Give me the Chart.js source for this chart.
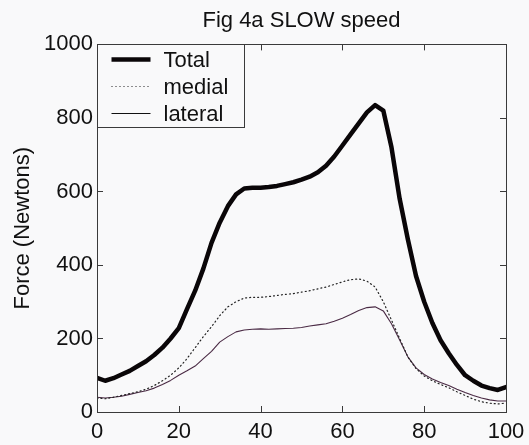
<!DOCTYPE html>
<html>
<head>
<meta charset="utf-8">
<script src="https://cdn.jsdelivr.net/npm/chart.js@4/dist/chart.umd.min.js"></script>
<style>
  html, body { margin: 0; padding: 0; background: #f9f9fa; }
  #wrap { width: 529px; height: 445px; }
</style>
</head>
<body>
<div id="wrap"><canvas id="fig"></canvas></div>
<script>
// Percent of stance (x) and forces in Newtons
const stance = [0, 2, 4, 6, 8, 10, 12, 14, 16, 18, 20, 22, 24, 26, 28, 30, 32, 34, 36, 38, 40,
  42, 44, 46, 48, 50, 52, 54, 56, 58, 60, 62, 64, 66, 68, 70, 72, 74, 76, 78, 80,
  82, 84, 86, 88, 90, 92, 94, 96, 98, 100];

const total = [93, 85, 92, 102, 112, 125, 138, 155, 175, 200, 228, 280, 330, 390, 460, 515, 560, 592, 608, 610, 610,
  612, 615, 620, 625, 632, 640, 652, 670, 695, 725, 755, 785, 815, 835, 820, 720, 580, 470, 370, 300,
  242, 195, 160, 128, 100, 85, 72, 65, 60, 68];

const medial = [38, 36, 40, 45, 50, 55, 62, 72, 85, 100, 120, 145, 175, 205, 232, 262, 286, 300, 310, 312, 312,
  314, 317, 320, 322, 326, 330, 335, 340, 347, 354, 360, 362, 356, 340, 300, 250, 200, 150, 118, 98,
  85, 75, 66, 55, 45, 35, 28, 24, 22, 24];

const lateral = [40, 38, 40, 43, 48, 53, 58, 65, 75, 86, 100, 112, 125, 145, 165, 190, 205, 218, 223, 225, 226,
  225, 226, 227, 228, 230, 234, 237, 240, 247, 255, 265, 276, 284, 286, 275, 240, 196, 150, 120, 102,
  90, 80, 72, 62, 53, 45, 38, 33, 30, 30];

const xTicks = [0, 20, 40, 60, 80, 100];
const yTicks = [0, 200, 400, 600, 800, 1000];

const FONT = "'Liberation Sans', Arial, Helvetica, sans-serif";
const AXIS = '#3a3a3a';

function pts(ys) {
  return stance.map((x, i) => ({ x: x, y: ys[i] }));
}

// MATLAB-style box with inward ticks and a boxed legend
const matlabBox = {
  id: 'matlabBox',
  afterLayout(chart) {
    // centre the title over the plot box, not over the whole canvas
    const t = chart.titleBlock;
    if (t) {
      t.left = chart.chartArea.left;
      t.right = chart.chartArea.right;
      t.width = t.right - t.left;
    }
  },
  afterDatasetsDraw(chart) {
    const { ctx, chartArea: a, scales } = chart;
    const len = 6;
    ctx.save();
    ctx.strokeStyle = AXIS;
    ctx.lineWidth = 1;
    ctx.beginPath();
    xTicks.forEach(v => {
      const px = Math.round(scales.x.getPixelForValue(v)) + 0.5;
      ctx.moveTo(px, a.bottom); ctx.lineTo(px, a.bottom - len);
      ctx.moveTo(px, a.top); ctx.lineTo(px, a.top + len);
    });
    yTicks.forEach(v => {
      const py = Math.round(scales.y.getPixelForValue(v)) + 0.5;
      ctx.moveTo(a.left, py); ctx.lineTo(a.left + len, py);
      ctx.moveTo(a.right, py); ctx.lineTo(a.right - len, py);
    });
    ctx.stroke();
    ctx.strokeRect(Math.round(a.left) + 0.5, Math.round(a.top) + 0.5,
      Math.round(a.right - a.left), Math.round(a.bottom - a.top));

    // legend
    const bx = Math.round(a.left) + 0.5, by = Math.round(a.top) + 0.5;
    const bw = 147, bh = 83;
    ctx.fillStyle = '#f9f9fa';
    ctx.fillRect(bx, by, bw, bh);
    ctx.strokeRect(bx, by, bw, bh);
    ctx.font = '22px ' + FONT;
    ctx.textBaseline = 'middle';
    chart.data.datasets.forEach((ds, i) => {
      const y = by + 15 + i * 27;
      ctx.beginPath();
      ctx.strokeStyle = i === 2 ? '#111' : ds.borderColor;
      ctx.lineWidth = ds.borderWidth;
      ctx.setLineDash(ds.borderDash || []);
      ctx.moveTo(bx + 14, y); ctx.lineTo(bx + 53, y);
      ctx.stroke();
      ctx.setLineDash([]);
      ctx.fillStyle = '#111';
      ctx.fillText(ds.label, bx + 66, y + 1);
    });
    ctx.restore();
  }
};

new Chart(document.getElementById('fig'), {
  type: 'line',
  data: {
    datasets: [
      { label: 'Total', data: pts(total), borderColor: '#0a0608', borderWidth: 4.5 },
      { label: 'medial', data: pts(medial), borderColor: '#222', borderWidth: 1.2, borderDash: [1, 3] },
      { label: 'lateral', data: pts(lateral), borderColor: '#4a2a44', borderWidth: 1.1 }
    ]
  },
  options: {
    responsive: true,
    maintainAspectRatio: false,
    animation: false,
    elements: { point: { radius: 0 }, line: { tension: 0, borderCapStyle: 'round', borderJoinStyle: 'round' } },
    layout: { padding: { left: 0, right: 23, top: 0, bottom: 0 } },
    plugins: {
      legend: { display: false },
      tooltip: { enabled: false },
      title: {
        display: true,
        text: 'Fig 4a SLOW speed',
        color: '#111',
        font: { family: FONT, size: 22, weight: 'normal' },
        padding: { top: 8, bottom: 10 }
      }
    },
    scales: {
      x: {
        type: 'linear',
        min: 0, max: 100,
        afterFit(scale) {
          scale.height = 33;
          scale.paddingLeft = 0;
          scale.paddingRight = 0;
        },
        afterBuildTicks(scale) { scale.ticks = xTicks.map(v => ({ value: v })); },
        grid: { display: false, drawTicks: false },
        border: { display: false },
        ticks: { color: '#111', font: { family: FONT, size: 22 }, padding: 7, maxRotation: 0,
          callback: v => String(v) }
      },
      y: {
        type: 'linear',
        min: 0, max: 1000,
        afterFit(scale) {
          scale.width = 97;
          scale.paddingTop = 0;
          scale.paddingBottom = 0;
        },
        afterBuildTicks(scale) { scale.ticks = yTicks.map(v => ({ value: v })); },
        grid: { display: false, drawTicks: false },
        border: { display: false },
        ticks: { color: '#111', font: { family: FONT, size: 22 }, padding: 4,
          callback: v => String(v) },
        title: {
          display: true,
          text: 'Force (Newtons)',
          color: '#111',
          font: { family: FONT, size: 22 },
          padding: { top: 10, bottom: 0 }
        }
      }
    }
  },
  plugins: [matlabBox]
});
</script>
</body>
</html>
